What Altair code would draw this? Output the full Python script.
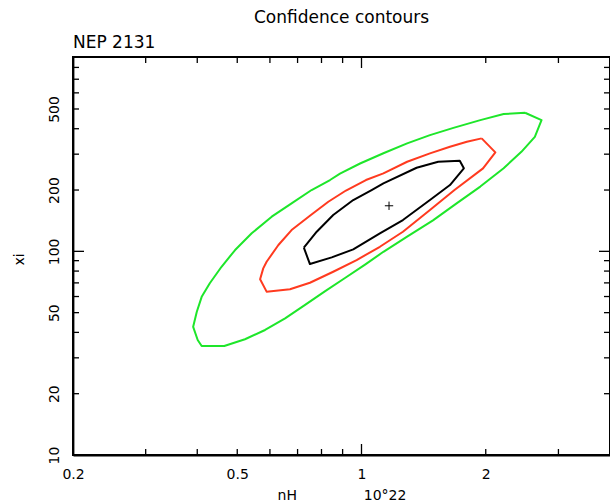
import altair as alt
import pandas as pd

# ---- contour data (nH in 1e22, xi) ----
green_nh = [2.49, 2.73, 2.63, 2.44, 2.21, 1.94, 1.70, 1.49, 1.29, 1.13, 1.02, 0.912, 0.815, 0.730,
            0.653, 0.584, 0.522, 0.465, 0.410, 0.401, 0.391, 0.399, 0.410, 0.429, 0.458, 0.494,
            0.542, 0.606, 0.677, 0.757, 0.839, 0.887, 0.992, 1.13, 1.29, 1.465, 1.67, 1.94, 2.21, 2.49]
green_xi = [479, 441, 365, 308, 256, 208, 172, 142, 118, 99.5, 86.1, 74.0, 63.6, 54.6,
            46.9, 41.1, 37.0, 34.3, 34.3, 36.7, 42.6, 50.5, 59.8, 69.7, 84.0, 101.5,
            122.6, 148, 172, 200, 224, 241, 270, 303, 339, 372, 404, 441, 472, 479]

red_nh = [1.955, 2.11, 1.97, 1.68, 1.465, 1.26, 1.108, 0.973, 0.854, 0.750, 0.671, 0.589, 0.568,
          0.578, 0.589, 0.629, 0.677, 0.754, 0.831, 0.917, 1.025, 1.13, 1.29, 1.465, 1.638, 1.80, 1.955]
red_xi = [358.7, 306, 255.6, 200, 159.5, 124.8, 105.3, 90.6, 79.4, 70.1, 65.1, 63.4, 72.9,
          82.5, 88.9, 107.4, 127.2, 150.8, 175.2, 198.9, 223.9, 241.5, 275.4, 302.8, 326, 345, 358.7]

black_nh = [0.725, 0.779, 0.854, 0.955, 1.058, 1.13, 1.36, 1.534, 1.73, 1.77, 1.638, 1.465,
            1.26, 1.108, 0.955, 0.847, 0.750, 0.725]
black_xi = [104.2, 124.8, 150.8, 178.6, 200, 215.7, 257.3, 275.4, 278.5, 255.6, 211.6, 178.6,
            142.5, 122.6, 102.3, 93.4, 86.6, 104.2]

best_nh = [1.166]
best_xi = [167.4]

levels = ["68%", "90%", "99%"]
level_colors = ["#000000", "#ff3a1f", "#1ee62a"]

x_labels = [0.2, 0.5, 1, 2]
y_labels = [10, 20, 50, 100, 200, 500]
x_minor = [0.3, 0.4, 0.5, 0.6, 0.7, 0.8, 0.9, 2, 3, 4]
x_major = [1]
y_minor = [20, 30, 40, 50, 60, 70, 80, 90, 200, 300, 400, 500, 600, 700, 800, 900]
y_major = [100]

x_domain = [0.2, 4]
y_domain = [10, 900]

title_text = "Confidence contours"
subtitle_text = "NEP 2131"

W, H = 537, 398
FONT = "DejaVu Sans"

rows = []
for lev, xs_, ys_ in zip(levels, [black_nh, red_nh, green_nh], [black_xi, red_xi, green_xi]):
    for i, (a, b) in enumerate(zip(xs_, ys_)):
        rows.append({"nH": a, "xi": b, "level": lev, "i": i})
contours = pd.DataFrame(rows)

xs = alt.Scale(type="log", domain=x_domain, nice=False)
ys = alt.Scale(type="log", domain=y_domain, nice=False)

nbsp = "\u00a0"
xaxis = alt.Axis(values=x_labels, format="~g", ticks=False, tickSize=0, domain=True,
                 domainColor="black", domainWidth=1.8, grid=False,
                 labelFont=FONT, labelFontSize=14, labelColor="black", labelBaseline="alphabetic",
                 labelPadding=23, labelOverlap=False, labelFlush=False, labelBound=False,
                 title="nH" + nbsp * 15 + "10°22", titleFont=FONT, titleFontSize=14,
                 titleFontWeight="normal", titleColor="black", titleX=W / 2, titleY=44,
                 titleBaseline="alphabetic", titleAlign="center")
yaxis = alt.Axis(values=y_labels, format="~g", ticks=False, tickSize=0, domain=True,
                 domainColor="black", domainWidth=1.8, grid=False,
                 labelFont=FONT, labelFontSize=14, labelColor="black", labelAngle=270,
                 labelAlign="center", labelBaseline="alphabetic", labelPadding=15,
                 labelOverlap=False, labelFlush=False, labelBound=False,
                 title="xi", titleFont=FONT, titleFontSize=14, titleFontWeight="normal",
                 titleColor="black", titleAngle=270, titleX=-50, titleY=H / 2 + 3,
                 titleBaseline="alphabetic", titleAlign="center")

lines = alt.Chart(contours).mark_line(strokeWidth=2, strokeJoin="round").encode(
    x=alt.X("nH:Q", scale=xs, axis=xaxis),
    y=alt.Y("xi:Q", scale=ys, axis=yaxis),
    color=alt.Color("level:N", scale=alt.Scale(domain=levels, range=level_colors), legend=None),
    detail="level:N",
    order="i:Q",
)

best = alt.Chart(pd.DataFrame({"nH": best_nh, "xi": best_xi})).mark_point(
    shape="M-1,0L1,0M0,-1L0,1", size=70, filled=False, color="black", strokeWidth=1, opacity=1
).encode(x=alt.X("nH:Q", scale=xs, axis=xaxis), y=alt.Y("xi:Q", scale=ys, axis=yaxis))


def xticks(vals, length, top):
    df = pd.DataFrame({"nH": vals})
    y0, y1 = (0, length) if top else (H, H - length)
    return alt.Chart(df).mark_rule(color="black", strokeWidth=1.3).encode(
        x=alt.X("nH:Q", scale=xs, axis=xaxis), y=alt.value(y0), y2=alt.value(y1))


def yticks(vals, length, right):
    df = pd.DataFrame({"xi": vals})
    x0, x1 = (W, W - length) if right else (0, length)
    return alt.Chart(df).mark_rule(color="black", strokeWidth=1.3).encode(
        y=alt.Y("xi:Q", scale=ys, axis=yaxis), x=alt.value(x0), x2=alt.value(x1))


nep = alt.Chart(pd.DataFrame({"t": [subtitle_text]})).mark_text(
    align="left", baseline="alphabetic", font=FONT, fontSize=17, color="black"
).encode(text="t:N", x=alt.value(0), y=alt.value(-9))

title = alt.Chart(pd.DataFrame({"t": [title_text]})).mark_text(
    align="center", baseline="alphabetic", font=FONT, fontSize=17, color="black"
).encode(text="t:N", x=alt.value(W / 2), y=alt.value(-34))

chart = alt.layer(
    lines, best,
    xticks(x_minor, 6, False), xticks(x_major, 11, False),
    xticks(x_minor, 6, True), xticks(x_major, 11, True),
    yticks(y_minor, 6, False), yticks(y_major, 11, False),
    yticks(y_minor, 6, True), yticks(y_major, 11, True),
    nep, title,
).properties(
    width=W, height=H,
    autosize=alt.AutoSizeParams(type="none"),
    padding={"left": 73, "top": 57, "right": 0, "bottom": 49},
).configure(
    background="white",
    view=alt.ViewConfig(stroke="black", strokeWidth=2),
)

chart.save("out.html", embed_options={"renderer": "svg", "actions": False})
